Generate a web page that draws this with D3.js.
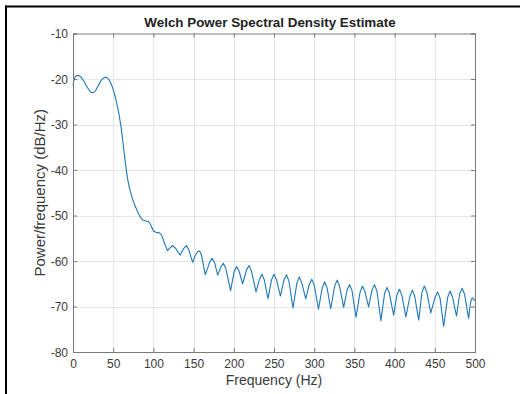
<!DOCTYPE html>
<html>
<head>
<meta charset="utf-8">
<script src="https://cdn.jsdelivr.net/npm/d3@7"></script>
<style>
  html, body { margin: 0; padding: 0; background: #fff; }
  svg { display: block; font-family: "Liberation Sans", Arial, sans-serif; }
</style>
</head>
<body>
<div id="chart"></div>
<script>
// Welch PSD estimate (Hz, dB/Hz)
const freqHz = [
    0, 1.5, 4, 7, 10, 14, 18, 22, 25, 28, 31, 35, 38.5, 41.5, 45, 48, 51, 54, 57, 60,
    62.5, 65, 67.5, 70, 73, 76.5, 80, 83.5, 87, 91, 94, 97, 100, 103, 107, 110, 114, 117.5,
    120.5, 124, 127.5, 130.5, 133.5, 137, 141, 144, 146.5, 149, 152, 155, 157.5, 160, 164.5,
    170, 173, 176, 180,
    184, 187, 190, 196,
    200.5, 203.5, 206.5, 211,
    216, 219, 222, 227.6,
    232, 235, 238, 242.5,
    247, 250, 253, 258,
    262.5, 265.5, 268.5, 273.6,
    278.5, 281.5, 284.5, 289.5,
    294, 297, 300, 305.3,
    310, 313, 316, 320.5,
    325.5, 328.5, 331.5, 336.6,
    341, 344, 347, 352,
    357, 360, 363, 367.7,
    372, 375, 378, 383,
    387.5, 390.5, 393.5, 398.8,
    403, 406, 409, 414,
    419, 422, 425, 430,
    434, 437, 440, 445,
    450.5, 453.5, 456.5, 461,
    466, 469, 472, 477,
    481, 484, 487, 492,
    494.5, 496.5, 498.5, 500
];
const powerDb = [
    -21.4, -20.0, -19.3, -19.2, -19.6, -20.6, -21.9, -22.9, -23.0, -22.6, -21.6, -20.3, -19.7, -19.6, -20.2, -21.3, -22.9, -25.0, -27.5, -30.8,
    -34.5, -38.2, -41.5, -43.8, -45.8, -47.6, -49.0, -50.3, -51.0, -51.2, -51.3, -52.2, -53.4, -53.7, -53.8, -54.2, -56.2, -57.7,
    -57.1, -56.6, -57.2, -58.0, -58.7, -57.4, -56.6, -57.5, -59.0, -60.3, -58.8, -57.9, -57.8, -58.8, -63.0,
    -60.3, -59.4, -60.3, -63.1,
    -61.3, -60.5, -61.6, -66.5,
    -62.3, -61.2, -62.2, -65.0,
    -61.9, -61.0, -62.2, -66.8,
    -64.0, -62.9, -64.2, -68.3,
    -64.1, -62.9, -64.1, -67.7,
    -64.1, -63.0, -64.4, -70.3,
    -64.8, -63.5, -64.8, -68.3,
    -65.1, -64.0, -65.3, -70.6,
    -65.9, -64.6, -65.9, -70.5,
    -65.5, -64.2, -65.5, -70.2,
    -66.3, -65.2, -66.5, -72.4,
    -66.9, -65.5, -66.7, -70.1,
    -66.3, -65.2, -66.6, -73.1,
    -67.2, -65.8, -67.1, -71.9,
    -67.4, -66.2, -67.5, -72.3,
    -67.8, -66.4, -67.7, -73.0,
    -66.9, -65.5, -66.8, -71.4,
    -67.9, -66.8, -68.1, -74.4,
    -68.0, -66.6, -67.9, -72.1,
    -67.2, -66.0, -67.3, -72.6,
    -69.0, -68.1, -68.4, -68.8
];
const xTicks = [0, 50, 100, 150, 200, 250, 300, 350, 400, 450, 500];
const yTicks = [-80, -70, -60, -50, -40, -30, -20, -10];

const width = 520;
const height = 394;
const plot = { left: 73, right: 475, top: 33.5, bottom: 352 };

const svg = d3.select("#chart")
    .append("svg")
    .attr("width", width)
    .attr("height", height);

// frame of the screenshot
svg.append("line")
    .attr("x1", 5).attr("x2", width).attr("y1", 6.5).attr("y2", 6.5)
    .attr("stroke", "#000").attr("stroke-width", 2);
svg.append("line")
    .attr("x1", 6).attr("x2", 6).attr("y1", 5.5).attr("y2", height)
    .attr("stroke", "#000").attr("stroke-width", 2);

const x = d3.scaleLinear().domain([0, 500]).range([plot.left, plot.right]);
const y = d3.scaleLinear().domain([-80, -10]).range([plot.bottom, plot.top]);

// grid
const grid = svg.append("g").attr("stroke", "#e6e6e6").attr("stroke-width", 1);
grid.selectAll(".gx")
    .data(xTicks.slice(1, -1))
    .enter().append("line")
    .attr("x1", d => Math.round(x(d)) + 0.5).attr("x2", d => Math.round(x(d)) + 0.5)
    .attr("y1", plot.top).attr("y2", plot.bottom);
grid.selectAll(".gy")
    .data(yTicks.slice(1, -1))
    .enter().append("line")
    .attr("y1", d => Math.round(y(d)) + 0.5).attr("y2", d => Math.round(y(d)) + 0.5)
    .attr("x1", plot.left).attr("x2", plot.right);

// PSD curve
const pts = freqHz.map((f, i) => [f, powerDb[i]]);
const line = d3.line()
    .x(d => x(d[0]))
    .y(d => y(d[1]));

svg.append("path")
    .datum(pts)
    .attr("fill", "none")
    .attr("stroke", "#1f77b8")
    .attr("stroke-width", 1.1)
    .attr("stroke-linejoin", "round")
    .attr("d", line);

// axes (box with inward ticks)
const axisColor = "#7a7a7a";
const textColor = "#3a3a3a";
const fmt = d => String(d);

const xAxis = svg.append("g")
    .attr("transform", `translate(0,${plot.bottom})`)
    .call(d3.axisBottom(x).tickValues(xTicks).tickSize(-4).tickPadding(7).tickFormat(fmt));
const xAxisTop = svg.append("g")
    .attr("transform", `translate(0,${plot.top})`)
    .call(d3.axisTop(x).tickValues(xTicks).tickSize(-4).tickFormat(""));
const yAxis = svg.append("g")
    .attr("transform", `translate(${plot.left},0)`)
    .call(d3.axisLeft(y).tickValues(yTicks).tickSize(-4).tickPadding(5).tickFormat(fmt));
const yAxisRight = svg.append("g")
    .attr("transform", `translate(${plot.right},0)`)
    .call(d3.axisRight(y).tickValues(yTicks).tickSize(-4).tickFormat(""));

[xAxis, xAxisTop, yAxis, yAxisRight].forEach(g => {
    g.select(".domain").attr("stroke", axisColor);
    g.selectAll(".tick line").attr("stroke", axisColor);
    g.selectAll(".tick text")
        .attr("fill", textColor)
        .style("font-size", "12px")
        .style("font-family", "'Liberation Sans', Arial, sans-serif");
});
yAxis.selectAll(".tick text").attr("dy", "0.35em");

// labels
svg.append("text")
    .attr("x", 270)
    .attr("y", 27)
    .attr("text-anchor", "middle")
    .style("font-size", "13.4px")
    .style("font-weight", "bold")
    .attr("fill", "#222")
    .text("Welch Power Spectral Density Estimate");

svg.append("text")
    .attr("x", (plot.left + plot.right) / 2)
    .attr("y", 385)
    .attr("text-anchor", "middle")
    .style("font-size", "14px")
    .attr("fill", textColor)
    .text("Frequency (Hz)");

svg.append("text")
    .attr("transform", `translate(45,${(plot.top + plot.bottom) / 2}) rotate(-90)`)
    .attr("text-anchor", "middle")
    .style("font-size", "15px")
    .attr("fill", textColor)
    .text("Power/frequency (dB/Hz)");
</script>
</body>
</html>
